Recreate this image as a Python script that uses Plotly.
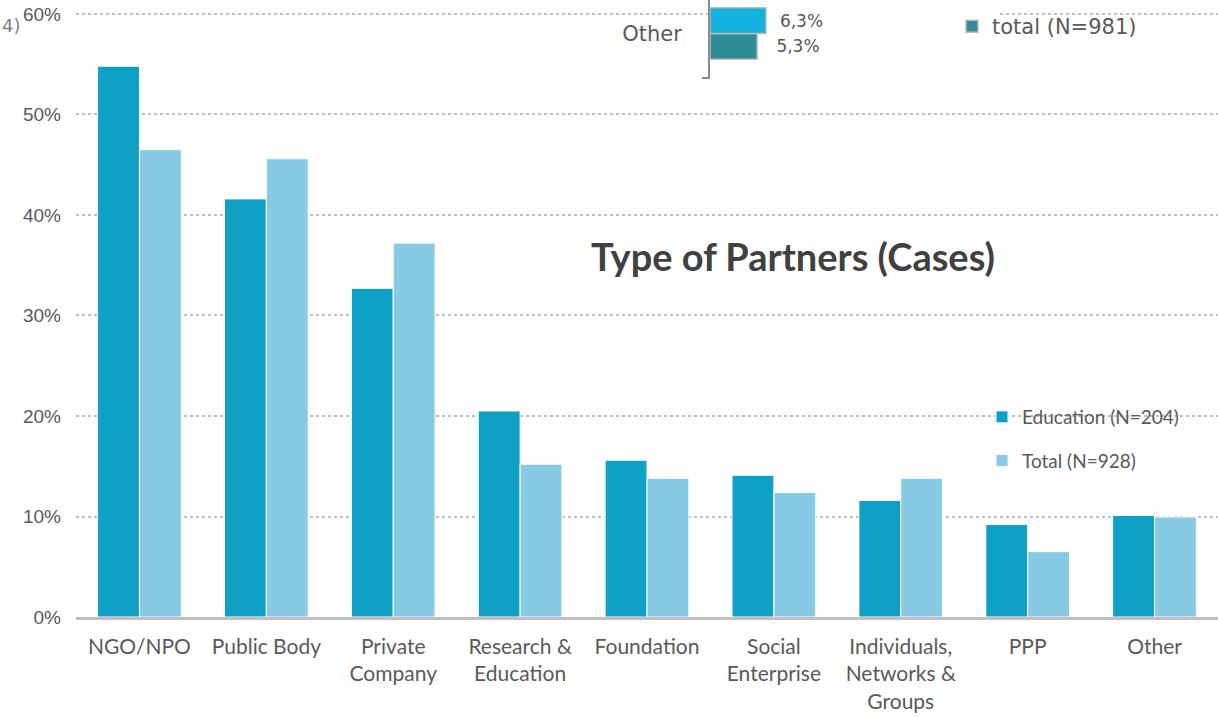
import plotly.graph_objects as go

categories = ["NGO/NPO", "Public Body", "Private<br>Company", "Research &<br>Education",
              "Foundation", "Social<br>Enterprise", "Individuals,<br>Networks &<br>Groups",
              "PPP", "Other"]
education = [54.8, 41.6, 32.7, 20.5, 15.6, 14.1, 11.6, 9.2, 10.1]
total = [46.5, 45.6, 37.2, 15.2, 13.8, 12.4, 13.8, 6.5, 9.95]

# fragment of an overlapping chart at the top
other_cat = ["Other"]
other_a = [6.3]
other_total = [5.3]

tick_vals = [0, 10, 20, 30, 40, 50, 60]
tick_text = ["0%", "10%", "20%", "30%", "40%", "50%", "60%"]

C_EDU = "#0FA0C6"
C_TOT = "#88C9E4"
GREY = "#595959"

fig = go.Figure()
fig.add_trace(go.Bar(x=categories, y=education, name="Education (N=204)",
                     marker=dict(color=C_EDU, line=dict(color="white", width=1)),
                     legend="legend", legendgroup="a"))
fig.add_trace(go.Bar(x=categories, y=total, name="Total (N=928)",
                     marker=dict(color=C_TOT, line=dict(color="white", width=1)),
                     legend="legend", legendgroup="b"))

fig.add_trace(go.Bar(y=other_cat, x=other_total, orientation="h", name="total (N=981)",
                     xaxis="x2", yaxis="y2",
                     marker=dict(color="#2E8B98", line=dict(color="#BFBFBF", width=1.5)),
                     text=other_total, texttemplate="   %{x:.1f}%", textposition="outside",
                     textfont=dict(family="DejaVu Sans", size=17, color=GREY),
                     legend="legend2", cliponaxis=False))
fig.add_trace(go.Bar(y=other_cat, x=other_a, orientation="h", name="other",
                     xaxis="x2", yaxis="y2", showlegend=False,
                     marker=dict(color="#13B1DD", line=dict(color="#BFBFBF", width=1.5)),
                     text=other_a, texttemplate="  %{x:.1f}%", textposition="outside",
                     textfont=dict(family="DejaVu Sans", size=17, color=GREY),
                     cliponaxis=False))

fig.update_layout(
    width=1218, height=718,
    margin=dict(l=76, r=0, t=0, b=101),
    paper_bgcolor="white", plot_bgcolor="white",
    separators=",.",
    barmode="group", bargap=0.34, bargroupgap=0,
    title=dict(text="<b>Type of Partners (Cases)</b>", x=793/1218, y=1-258/718,
               xanchor="center", yanchor="middle", xref="container", yref="container",
               font=dict(family="Lato", size=38, color="#404040")),
    xaxis=dict(domain=[0, 1], showgrid=False, showline=True, linecolor="#C0C0C0",
               linewidth=2.5, ticks="", tickangle=0,
               tickfont=dict(family="Lato", size=21, color=GREY), ticklabelstandoff=9),
    yaxis=dict(domain=[0, 1], range=[0, 61.39], tickvals=tick_vals, ticktext=tick_text,
               showgrid=True, gridcolor="#BFBFBF", griddash="dot", gridwidth=1.5,
               showline=False, zeroline=False, ticks="",
               tickfont=dict(family="Liberation Sans", size=19, color=GREY),
               ticklabelstandoff=14),
    xaxis2=dict(domain=[(710-76)/1142, (1000-76)/1142], range=[0, 290/8.9], anchor="y2",
                visible=False),
    yaxis2=dict(domain=[1-78/617, 1], range=[-0.57, 0.43], anchor="x2", type="category",
                showline=True, linecolor="#8C8C8C", linewidth=2, ticks="",
                showgrid=False, tickfont=dict(family="DejaVu Sans", size=21, color=GREY),
                ticklabelstandoff=22),
    legend=dict(x=(982-76)/1142, y=1-398/617, xanchor="left", yanchor="top",
                traceorder="grouped", tracegroupgap=16, bgcolor="rgba(0,0,0,0)",
                font=dict(family="Lato", size=19, color=GREY)),
    legend2=dict(x=(952-76)/1142, y=1-6/617, xanchor="left", yanchor="top",
                 bgcolor="rgba(0,0,0,0)", font=dict(family="DejaVu Sans", size=21, color=GREY)),
    annotations=[dict(text="4)", xref="paper", yref="paper", x=(0-76)/1142, y=1-25/617,
                      xanchor="left", yanchor="middle", showarrow=False,
                      font=dict(family="DejaVu Sans", size=18, color="#7F7F7F"))],
    shapes=[dict(type="line", xref="paper", yref="paper",
                 x0=(702-76)/1142, x1=(710-76)/1142, y0=1-78/617, y1=1-78/617,
                 line=dict(color="#8C8C8C", width=2))],
)

fig.write_html("out.html", post_script="document.body.style.margin='0';",
               config={"displayModeBar": False})
